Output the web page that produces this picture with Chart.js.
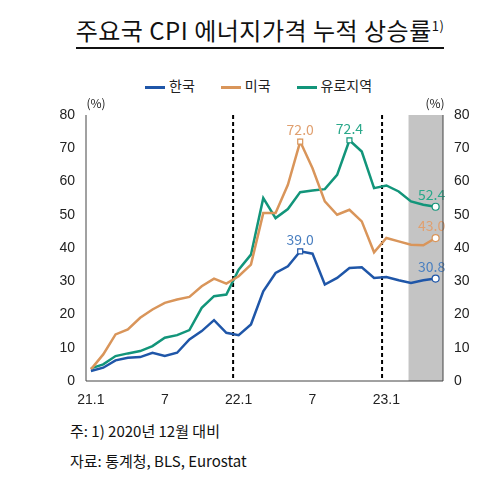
<!DOCTYPE html>
<html><head><meta charset="utf-8">
<script src="https://cdn.jsdelivr.net/npm/chart.js@4"></script>
<style>
body{margin:0;width:500px;height:486px;background:#fff;font-family:"Noto Sans CJK KR","Noto Sans",sans-serif;position:relative;overflow:hidden}
#title{position:absolute;top:12px;left:0;width:520px;text-align:center;font-size:24px;color:#111;letter-spacing:0.5px}
#title span{border-bottom:2px solid #111;padding-bottom:0px}
#legend{position:absolute;top:75px;left:145px;font-size:14px;color:#222;white-space:nowrap}
#legend i{display:inline-block;width:20px;height:3px;vertical-align:middle;margin-right:4px}
#legend b{font-weight:normal;margin-right:26px}
.fn{position:absolute;left:70px;font-size:15px;color:#111}
#wrap{position:absolute;top:95px;left:0;width:500px;height:315px}
</style></head><body>
<div id="title"><span>주요국 CPI 에너지가격 누적 상승률<sup style="font-size:13px">1)</sup></span></div>
<div id="legend"><i style="background:#1f56a8"></i><b>한국</b><i style="background:#d9955a"></i><b>미국</b><i style="background:#12957a"></i><b>유로지역</b></div>
<div id="wrap"><canvas id="c"></canvas></div>
<div class="fn" style="top:420px">주: 1) 2020년 12월 대비</div>
<div class="fn" style="top:450px">자료: 통계청, BLS, Eurostat</div>
<script>
const months = ["21.1","","","","","","7","","","","","","22.1","","","","","","7","","","","","","23.1","","","",""];
const korea = [3.0,4,6.2,7,7.2,8.5,7.5,8.5,12.5,15,18.3,14.5,13.8,17,27,32.5,34.5,39,38.3,29,31,34,34.2,31,31.3,30.3,29.5,30.3,30.8];
const usa = [3.5,8,14,15.5,19,21.5,23.5,24.5,25.3,28.5,30.8,29.3,31.5,35,50.5,50.5,59,72,64,54,50,51.5,48,38.7,43,42,41,40.8,43];
const euro = [3.8,5,7.5,8.3,9,10.5,13,13.8,15.3,22,25.5,26,33.5,38,55,49,51.7,56.8,57.3,57.7,62,72.4,69,58,58.8,57,54,53,52.4];
const yTicks = [0,10,20,30,40,50,60,70,80];
const labels = [{s:0,i:17,t:"39.0",c:"#4a7fc0"},{s:1,i:17,t:"72.0",c:"#e0a070"},{s:2,i:21,t:"72.4",c:"#2aa88a"},
 {s:0,i:28,t:"30.8",c:"#4a7fc0"},{s:1,i:28,t:"43.0",c:"#e0a070"},{s:2,i:28,t:"52.4",c:"#2aa88a"}];
function style(arr,peak){return arr.map((v,i)=>i===peak?'rect':(i===arr.length-1?'circle':false));}
function radius(arr,peak){return arr.map((v,i)=>(i===peak||i===arr.length-1)?3.5:0);}
const mk=(d,c,peak)=>({data:d.map((y,x)=>({x,y})),borderColor:c,borderWidth:2.5,pointStyle:style(d,peak),pointRadius:radius(d,peak),pointBackgroundColor:'#fff',pointBorderColor:c,pointBorderWidth:1.2,tension:0});
const deco={id:'deco',
 beforeDatasetsDraw(ch){const{ctx,chartArea:a,scales:{x,y}}=ch;ctx.save();
  ctx.fillStyle='#c4c4c4';const x0=x.getPixelForValue(25.8);ctx.fillRect(x0,a.top,a.right-x0,a.bottom-a.top);
  ctx.strokeStyle='#000';ctx.lineWidth=2;ctx.setLineDash([4,3]);
  [11.55,23.65].forEach(v=>{const px=x.getPixelForValue(v);ctx.beginPath();ctx.moveTo(px,a.top);ctx.lineTo(px,a.bottom);ctx.stroke();});
  ctx.restore();},
 afterDatasetsDraw(ch){const{ctx,chartArea:a,scales:{x,y}}=ch;ctx.save();
  ctx.font='14px "Noto Sans CJK KR",sans-serif';ctx.textAlign='center';ctx.textBaseline='bottom';
  labels.forEach(l=>{const d=[korea,usa,euro][l.s][l.i];ctx.fillStyle=l.c;let px=x.getPixelForValue(l.i);if(l.i===28)px-=4;ctx.fillText(l.t,px,y.getPixelForValue(d)-5);});
  ctx.fillStyle='#222';ctx.font='12px "Noto Sans CJK KR",sans-serif';
  ctx.fillText('(%)',a.left+10,a.top-6);ctx.fillText('(%)',a.right-8,a.top-6);
  ctx.strokeStyle='#444';ctx.lineWidth=1;ctx.beginPath();ctx.moveTo(a.left,a.top);ctx.lineTo(a.left,a.bottom);ctx.lineTo(a.right,a.bottom);ctx.lineTo(a.right,a.top);ctx.stroke();
  ctx.restore();}};
const tickCb=v=>yTicks.includes(v)?v:'';
new Chart(document.getElementById('c'),{type:'line',
 data:{datasets:[mk(korea,'#1f56a8',17),mk(usa,'#d9955a',17),mk(euro,'#12957a',21)]},
 options:{responsive:true,maintainAspectRatio:false,animation:false,
  layout:{padding:{top:20,left:0,right:0,bottom:0}},
  plugins:{legend:{display:false},tooltip:{enabled:false}},
  scales:{
   x:{type:'linear',min:-0.4,max:28.6,afterFit:s=>{s.height=29},
    afterBuildTicks:s=>{s.ticks=[0,6,12,18,24].map(v=>({value:v}))},
    ticks:{callback:v=>months[v],color:'#222',font:{size:14},autoSkip:false,maxRotation:0},
    grid:{display:false},border:{display:false}},
   y:{min:0,max:80,afterFit:s=>{s.width=86},ticks:{stepSize:10,callback:tickCb,color:'#222',font:{size:14}},
    grid:{display:false},border:{display:false}},
   y2:{position:'right',min:0,max:80,afterFit:s=>{s.width=57},ticks:{stepSize:10,callback:tickCb,color:'#222',font:{size:14}},
    grid:{display:false},border:{display:false}}
  }},plugins:[deco]});
</script></body></html>
